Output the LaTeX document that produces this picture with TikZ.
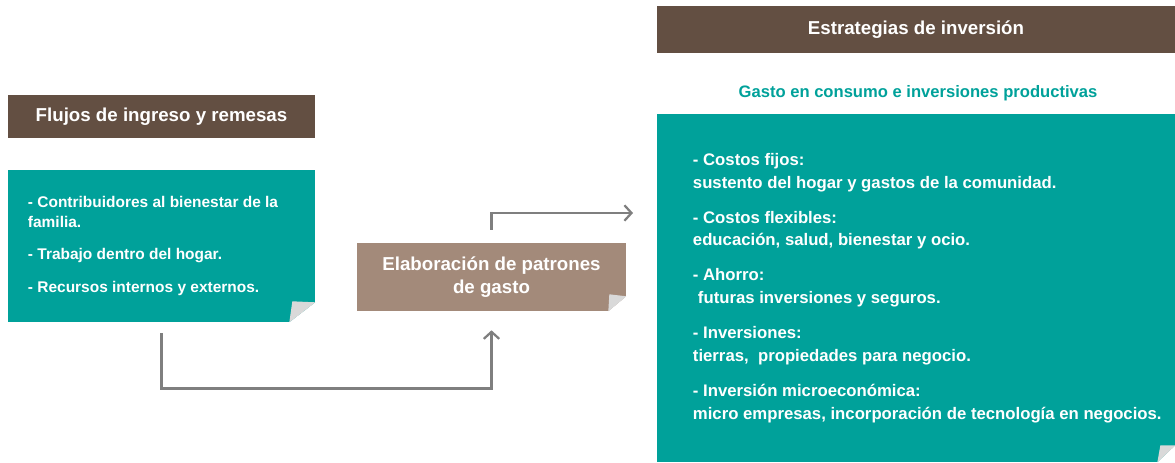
\documentclass[tikz,border=0pt]{standalone}
\usepackage{fontspec}
\setmainfont{Liberation Sans}
\usetikzlibrary{arrows.meta,calc}
\definecolor{verde}{RGB}{0,161,154}
\definecolor{cafe}{RGB}{99,79,66}
\definecolor{arena}{RGB}{163,138,122}
\definecolor{flecha}{RGB}{127,127,127}
\definecolor{doblez}{RGB}{217,217,217}

\begin{document}
\begin{tikzpicture}[x=0.025cm,y=-0.025cm,
    titulo/.style={fill=cafe,text=white,font=\fontsize{13.3}{16.3}\selectfont\bfseries,inner sep=0pt},
    caja/.style={fill=verde,inner sep=0pt},
    texto/.style={text=white,font=\fontsize{11}{14.2}\selectfont\bfseries,align=left,inner sep=0pt,anchor=west},
    conn/.style={line width=2.1pt,flecha,-{Straight Barb[length=5pt,width=11pt,line width=1.6pt]}}]
          \useasboundingbox (0,0) rectangle (1175,462);
          % izquierda
          \node[titulo,minimum width=7.675cm,minimum height=1.075cm] (flujos) at (161.5,116.5) {Flujos de ingreso y remesas};
          \node[caja,minimum width=7.675cm,minimum height=3.8cm] (ing) at (161.5,246) {};
          \node[texto] (ingtxt) at ([xshift=0.5cm]ing.west) {- Contribuidores al bienestar de la\\familia.\\[9pt]- Trabajo dentro del hogar.\\[9pt]- Recursos internos y externos.};
          \fill[white] ($(ing.south east)+(-26,0)$) -- (ing.south east) -- ($(ing.south east)+(0,-20)$) -- cycle;
          \fill[doblez] ($(ing.south east)+(-26,0)$) -- ($(ing.south east)+(-23,-21)$) -- ($(ing.south east)+(0,-20)$) -- cycle;
          % centro
          \node[fill=arena,text=white,font=\fontsize{13.3}{16.3}\selectfont\bfseries,align=center,minimum width=6.725cm,minimum height=1.7cm,inner sep=0pt] (patr) at (491.5,277) {Elaboración de patrones\\de gasto};
          \fill[white] ($(patr.south east)+(-18,0)$) -- (patr.south east) -- ($(patr.south east)+(0,-15)$) -- cycle;
          \fill[doblez] ($(patr.south east)+(-18,0)$) -- ($(patr.south east)+(-17,-17)$) -- ($(patr.south east)+(0,-15)$) -- cycle;
          % derecha
          \node[titulo,minimum width=12.95cm,minimum height=1.175cm] (estrat) at (916,29.5) {Estrategias de inversión};
          \node[text=verde,font=\fontsize{11.8}{14}\selectfont\bfseries,inner sep=0pt] (gasto) at (918,93) {Gasto en consumo e inversiones productivas};
          \node[caja,minimum width=12.95cm,minimum height=8.7cm] (estr) at (916,288) {};
          \node[texto,font=\fontsize{11.9}{16.3}\selectfont\bfseries] (estrtxt) at ([xshift=0.9cm]estr.west) {- Costos fijos:\\sustento del hogar y gastos de la comunidad.\\[8.5pt]- Costos flexibles:\\educación, salud, bienestar y ocio.\\[8.5pt]- Ahorro:\\\hspace{0.3em}futuras inversiones y seguros.\\[8.5pt]- Inversiones:\\tierras,\ \ propiedades para negocio.\\[8.5pt]- Inversión microeconómica:\\micro empresas, incorporación de tecnología en negocios.};
          \fill[white] ($(estr.south east)+(-18,0)$) -- (estr.south east) -- ($(estr.south east)+(0,-17)$) -- cycle;
          \fill[doblez] ($(estr.south east)+(-18,0)$) -- ($(estr.south east)+(-15,-17)$) -- ($(estr.south east)+(0,-17)$) -- cycle;
          % flechas
          \coordinate (entrada) at (633,213);
          \draw[conn,shorten <=0.275cm,shorten >=0.475cm] (ing.south) -- ++(0,66) -| (patr.south);
          \draw[conn,shorten <=0.325cm] (patr.north) |- (entrada);
\end{tikzpicture}
\end{document}
